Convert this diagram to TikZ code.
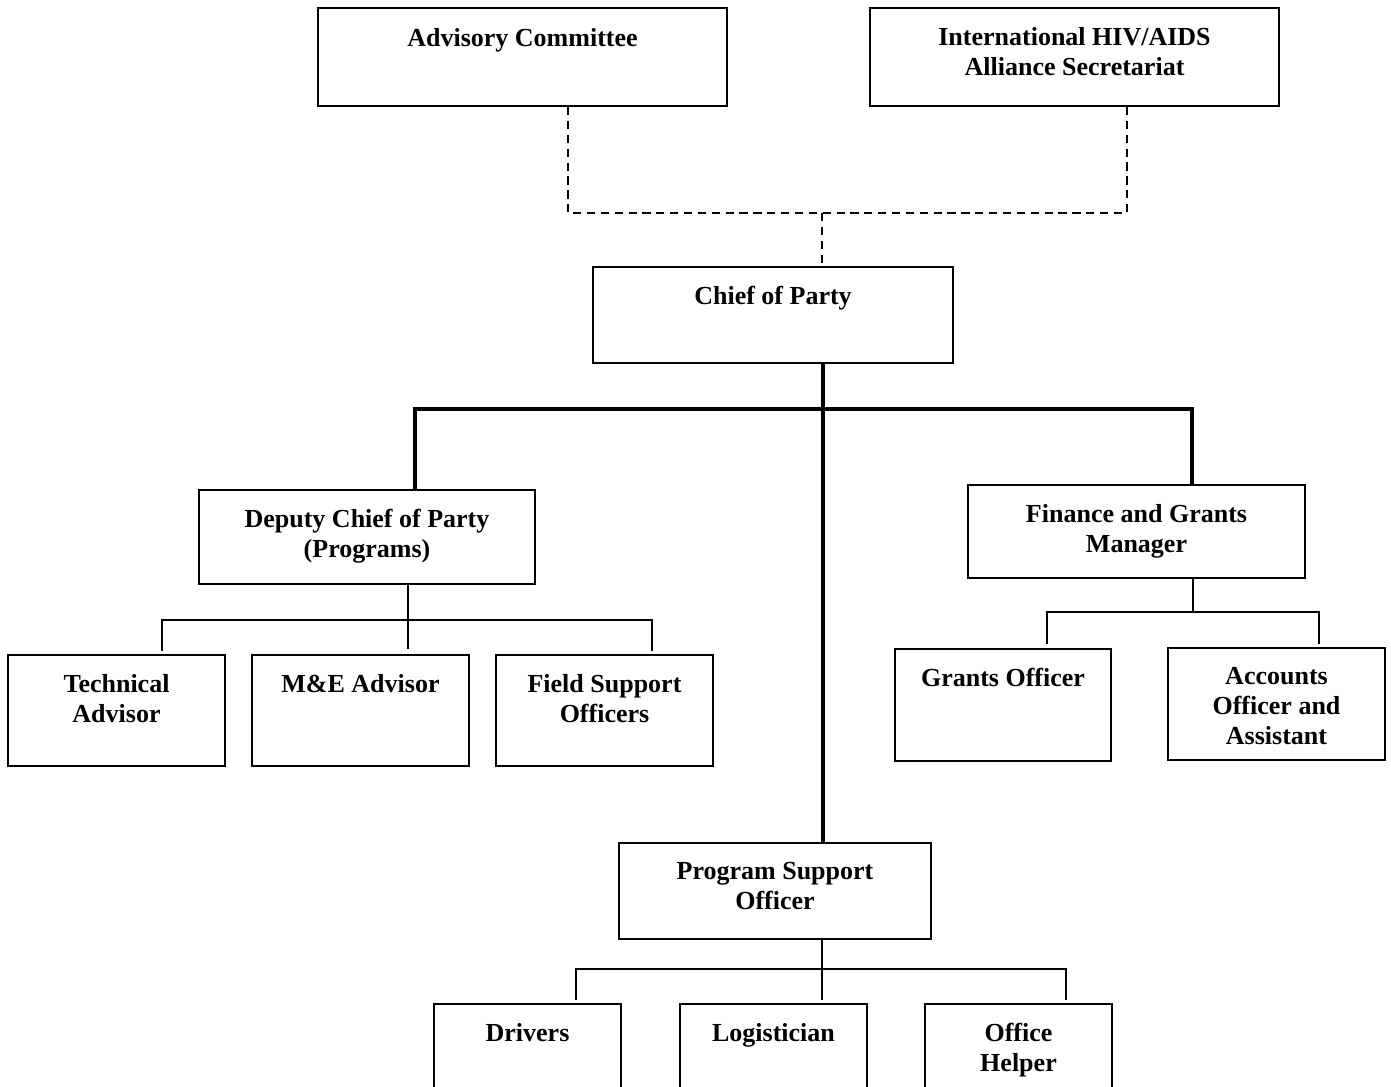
\documentclass[tikz,border=0pt]{standalone}
\usepackage{fontspec}
\setmainfont{Liberation Serif}
\begin{document}
\begin{tikzpicture}[x=0.4615pt,y=-0.4615pt,
  box/.style={draw=black,line width=1pt,fill=white,inner sep=0pt},
  lbl/.style={anchor=north,inner sep=0pt,align=center,font=\fontsize{12pt}{13.8pt}\selectfont\bfseries},
  thin/.style={line width=0.9pt},
  thick/.style={line width=2.1pt},
  dsh/.style={line width=0.8pt,dash pattern=on 3.8pt off 2.6pt}]
\useasboundingbox (0,0) rectangle (1391,1086);
\clip (0,0) rectangle (1391,1086);
% boxes
\node[box,minimum width=409*0.4615pt,minimum height=98*0.4615pt] (adv) at (522.5,57) {};
\node[box,minimum width=409*0.4615pt,minimum height=98*0.4615pt] (intl) at (1074.5,57) {};
\node[box,minimum width=360*0.4615pt,minimum height=96*0.4615pt] (chief) at (773,315) {};
\node[box,minimum width=336*0.4615pt,minimum height=94*0.4615pt] (dep) at (367,537) {};
\node[box,minimum width=337*0.4615pt,minimum height=93*0.4615pt] (fin) at (1136.5,531.5) {};
\node[box,minimum width=217*0.4615pt,minimum height=111*0.4615pt] (tech) at (116.5,710.5) {};
\node[box,minimum width=217*0.4615pt,minimum height=111*0.4615pt] (mea) at (360.5,710.5) {};
\node[box,minimum width=217*0.4615pt,minimum height=111*0.4615pt] (fso) at (604.5,710.5) {};
\node[box,minimum width=216*0.4615pt,minimum height=112*0.4615pt] (gro) at (1003,705) {};
\node[box,minimum width=217*0.4615pt,minimum height=112*0.4615pt] (acc) at (1276.5,704) {};
\node[box,minimum width=312*0.4615pt,minimum height=96*0.4615pt] (pso) at (775,891) {};
\node[box,minimum width=187*0.4615pt,minimum height=110*0.4615pt] (drv) at (527.5,1059) {};
\node[box,minimum width=187*0.4615pt,minimum height=110*0.4615pt] (log) at (773.5,1059) {};
\node[box,minimum width=187*0.4615pt,minimum height=110*0.4615pt] (ohp) at (1018.5,1059) {};
% labels
\node[lbl] (tadv) at ([yshift=-21*0.4615pt]adv.north) {Advisory Committee};
\node[lbl] (tintl) at ([yshift=-20*0.4615pt]intl.north) {International HIV/AIDS\\Alliance Secretariat};
\node[lbl] (tchief) at ([yshift=-20*0.4615pt]chief.north) {Chief of Party};
\node[lbl] (tdep) at ([yshift=-20*0.4615pt]dep.north) {Deputy Chief of Party\\(Programs)};
\node[lbl] (tfin) at ([yshift=-20*0.4615pt]fin.north) {Finance and Grants\\Manager};
\node[lbl] (ttech) at ([yshift=-20*0.4615pt]tech.north) {Technical\\Advisor};
\node[lbl] (tmea) at ([yshift=-20*0.4615pt]mea.north) {M\&E Advisor};
\node[lbl] (tfso) at ([yshift=-20*0.4615pt]fso.north) {Field Support\\Officers};
\node[lbl] (tgro) at ([yshift=-20*0.4615pt]gro.north) {Grants Officer};
\node[lbl] (tacc) at ([yshift=-20*0.4615pt]acc.north) {Accounts\\Officer and\\Assistant};
\node[lbl] (tpso) at ([yshift=-20*0.4615pt]pso.north) {Program Support\\Officer};
\node[lbl] (tdrv) at ([yshift=-20*0.4615pt]drv.north) {Drivers};
\node[lbl] (tlog) at ([yshift=-20*0.4615pt]log.north) {Logistician};
\node[lbl] (tohp) at ([yshift=-20*0.4615pt]ohp.north) {Office\\Helper};
% dashed connectors
\coordinate (dl) at (568,213);
\coordinate (dr) at (1127,213);
\coordinate (dc) at (822,213);
\draw[dsh] (dl |- adv.south) -- (dl) -- (dr) -- (dr |- intl.south);
\draw[dsh] (dc) -- (dc |- chief.north);
% thick connectors
\coordinate (cj) at (823,409);
\coordinate (dj) at (415,409);
\coordinate (fj) at (1192,409);
\draw[thick] (cj |- chief.south) -- (cj |- pso.north);
\draw[thick] (dj |- dep.north) -- (dj) -- (fj) -- (fj |- fin.north);
% deputy sub-tree
\coordinate (d1) at (162,620);
\coordinate (d2) at (408,620);
\coordinate (d3) at (652,620);
\draw[thin] (d2 |- dep.south) -- (d2);
\draw[thin] ([yshift=3*0.4615pt]d1 |- tech.north) -- (d1) -- (d3) -- ([yshift=3*0.4615pt]d3 |- fso.north);
\draw[thin] (d2) -- ([yshift=5*0.4615pt]d2 |- mea.north);
% finance sub-tree
\coordinate (f1) at (1047,612);
\coordinate (f2) at (1193,612);
\coordinate (f3) at (1319,612);
\draw[thin] (f2 |- fin.south) -- (f2);
\draw[thin] ([yshift=4*0.4615pt]f1 |- gro.north) -- (f1) -- (f3) -- ([yshift=3*0.4615pt]f3 |- acc.north);
% program support sub-tree
\coordinate (p1) at (576,969);
\coordinate (p2) at (822,969);
\coordinate (p3) at (1066,969);
\draw[thin] (p2 |- pso.south) -- (p2);
\draw[thin] ([yshift=3*0.4615pt]p1 |- drv.north) -- (p1) -- (p3) -- ([yshift=3*0.4615pt]p3 |- ohp.north);
\draw[thin] (p2) -- ([yshift=3*0.4615pt]p2 |- log.north);
\end{tikzpicture}
\end{document}
